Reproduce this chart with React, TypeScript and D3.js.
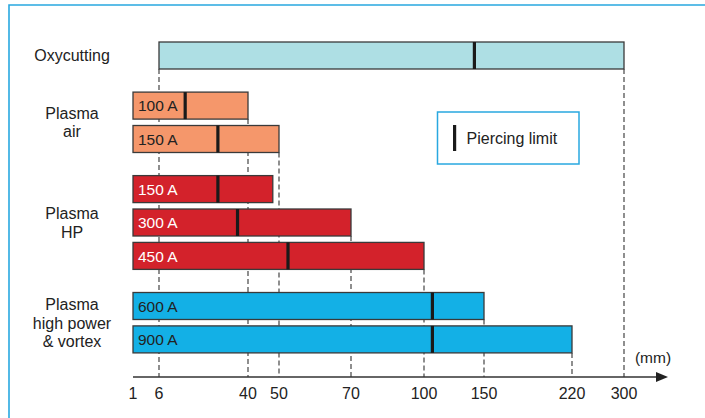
import React from "react";
import * as d3 from "d3";

// ---- data ----
const tickValues = [1, 6, 40, 50, 70, 100, 150, 220, 300];
const barLabels = ["", "100 A", "150 A", "150 A", "300 A", "450 A", "600 A", "900 A"];
const barGroups = [0, 1, 1, 2, 2, 2, 3, 3];
const barMin = [6, 1, 1, 1, 1, 1, 1, 1];
const barMax = [300, 40, 50, 48, 70, 100, 150, 220];
const barPiercing = [142, 16, 28.5, 28.5, 36, 52.5, 107, 107];
const groupNames = [["Oxycutting"], ["Plasma", "air"], ["Plasma", "HP"], ["Plasma", "high power", "& vortex"]];
const groupFill = ["#aedfe4", "#f5976b", "#d3222b", "#13b0e6"];
const groupText = ["#222", "#222", "#ffffff", "#222"];
const legendLabel = "Piercing limit";
const unitLabel = "(mm)";

const W = 705;
const H = 418;
const FONT = "'Liberation Sans', Arial, Helvetica, sans-serif";

export default function App() {
  // piecewise axis positions (layout)
  const tickPos = [133, 159, 248, 279, 351, 424, 484, 572, 624];
  const x = d3.scaleLinear().domain(tickValues).range(tickPos);

  const y0 = 42;
  const pitch = 33.4;
  const barH = 27;
  const slot = (i: number) => i + 0.5 * barGroups[i];
  const y = d3.scaleLinear().domain([0, 10]).range([y0, y0 + pitch * 10]);
  const axisY = y(10) + 1;

  const bars = barLabels.map((lab, i) => ({
    lab,
    g: barGroups[i],
    top: y(slot(i)),
    x0: x(barMin[i]),
    x1: x(barMax[i]),
    xp: x(barPiercing[i]),
  }));

  // dashed guides: for each tick (except first), from the first bar whose end hits it
  const guides = tickValues.slice(1).map((t) => {
    const idx = bars.findIndex((b, i) => barMax[i] === t || barMin[i] === t);
    const top = idx >= 0 ? bars[idx].top + barH : y0 + barH;
    return { t, top };
  });

  const groupCenters = groupNames.map((_, g) => {
    const bs = bars.filter((b) => b.g === g);
    const top = d3.min(bs, (b) => b.top)!;
    const bot = d3.max(bs, (b) => b.top + barH)!;
    return (top + bot) / 2;
  });

  const lineH = 18.5;
  const axisEnd = 668;

  return (
    <svg width={W} height={H} style={{ position: "absolute", left: 0, top: 0, background: "#fff" }} fontFamily={FONT}>
      {/* frame */}
      <path d={`M9,${H} L9,5 L${W},5`} fill="none" stroke="#29a8e0" strokeWidth={1.6} />

      {/* guides */}
      {guides.map((g) => (
        <line key={g.t} x1={x(g.t)} x2={x(g.t)} y1={g.top} y2={axisY} stroke="#333" strokeWidth={1.1} strokeDasharray="5,3" />
      ))}

      {/* bars */}
      {bars.map((b, i) => (
        <g key={i}>
          <rect x={b.x0} y={b.top} width={b.x1 - b.x0} height={barH} fill={groupFill[b.g]} stroke="#3a3a3a" strokeWidth={1.3} />
          <rect x={b.xp - 1.6} y={b.top} width={3.2} height={barH} fill="#1a1a1a" />
          {b.lab && (
            <text x={b.x0 + 5} y={b.top + barH / 2 + 5.6} fontSize={15.5} fill={groupText[b.g]}>
              {b.lab}
            </text>
          )}
        </g>
      ))}

      {/* group labels */}
      {groupNames.map((lines, g) => (
        <text key={g} x={72} textAnchor="middle" fontSize={16} fill="#222">
          {lines.map((l, k) => (
            <tspan key={k} x={72} y={groupCenters[g] - ((lines.length - 1) * lineH) / 2 + 5.8 + k * lineH}>
              {l}
            </tspan>
          ))}
        </text>
      ))}

      {/* axis */}
      <line x1={x(1)} x2={axisEnd - 10} y1={axisY} y2={axisY} stroke="#333" strokeWidth={1.3} />
      <path d={`M${axisEnd - 12},${axisY - 5} L${axisEnd},${axisY} L${axisEnd - 12},${axisY + 5} Z`} fill="#222" />
      {tickValues.map((t) => (
        <text key={t} x={x(t)} y={axisY + 22} textAnchor="middle" fontSize={16} fill="#222">
          {t}
        </text>
      ))}
      <text x={653} y={axisY - 14} textAnchor="middle" fontSize={15.5} fill="#222">
        {unitLabel}
      </text>

      {/* legend */}
      <rect x={437.5} y={112} width={141.5} height={52} fill="#fff" stroke="#29a8e0" strokeWidth={1.5} />
      <rect x={453} y={125} width={3.2} height={26} fill="#1a1a1a" />
      <text x={466.5} y={143.5} fontSize={16} fill="#222">
        {legendLabel}
      </text>
    </svg>
  );
}
